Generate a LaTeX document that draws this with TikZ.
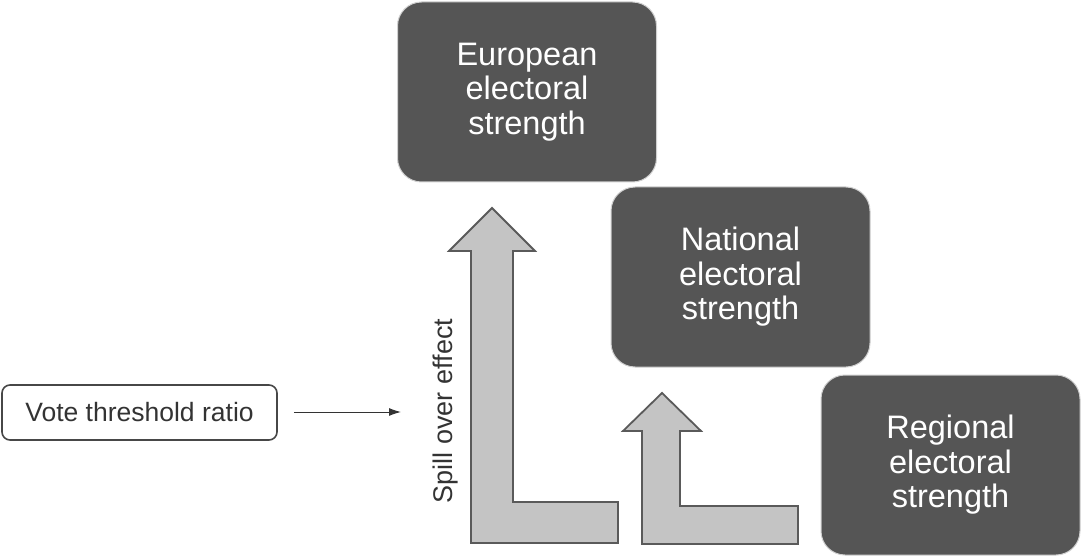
\documentclass[tikz,border=0pt]{standalone}
\usepackage{fontspec}
\setmainfont{Liberation Sans}
\definecolor{boxfill}{HTML}{555555}
\definecolor{boxline}{HTML}{D0D0D0}
\definecolor{arrfill}{HTML}{C4C4C4}
\definecolor{arrline}{HTML}{5A5A5A}
\definecolor{txt}{HTML}{333333}
\tikzset{
  darkbox/.style={fill=boxfill, draw=boxline, line width=1pt, rounded corners=24pt,
    minimum width=259pt, minimum height=180pt, text=white, align=center,
    font=\fontsize{32.5}{34.5}\selectfont, inner sep=0pt},
  votebox/.style={draw=txt!90, line width=1.6pt, rounded corners=8pt,
    minimum width=275pt, minimum height=55pt, text=txt, inner sep=0pt,
    font=\fontsize{26.5}{29}\selectfont},
  bigarrow/.style={fill=arrfill, draw=arrline, line width=1.8pt, line join=miter},
  thinarrow/.style={draw=txt, line width=1pt, -{Latex[length=12pt,width=8pt]}},
  spilltext/.style={rotate=90, text=txt, inner sep=0pt, font=\fontsize{27}{29}\selectfont}
}
\usetikzlibrary{arrows.meta}
\begin{document}
\begin{tikzpicture}[x=1pt,y=-1pt]
\useasboundingbox (0,0) rectangle (1081,556);
% L-shaped arrows
\draw[bigarrow] (492,208) -- (535,251) -- (513,251) -- (513,502) -- (618,502) -- (618,543) -- (471,543) -- (471,251) -- (449,251) -- cycle;
\draw[bigarrow] (662,393) -- (701,431) -- (680,431) -- (680,506) -- (798,506) -- (798,544) -- (642,544) -- (642,431) -- (623,431) -- cycle;
% boxes
\node[darkbox] (eu) at (527,92) {European\\electoral\\strength};
\node[darkbox] (nat) at (740.5,277) {National\\electoral\\strength};
\node[darkbox] (reg) at (950.5,465) {Regional\\electoral\\strength};
\node[votebox] (vote) at (139.5,412.5) {Vote threshold ratio};
\node[spilltext] (spill) at (446,411) {Spill over effect};
\coordinate (tip) at (401,412);
\draw[thinarrow] ([xshift=16pt]vote.east |- tip) -- (tip);
\end{tikzpicture}
\end{document}
